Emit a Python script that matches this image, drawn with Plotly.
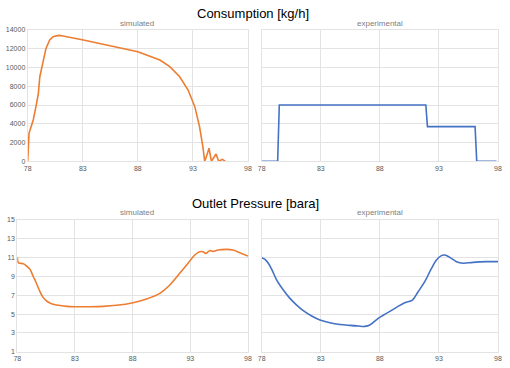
import plotly.graph_objects as go

# ---- data ----
sim_cons_x = [78.0, 78.05, 78.12, 78.36, 78.5, 78.75, 78.97, 79.1, 79.4, 79.66, 80.0, 80.3, 80.8, 81.2,
              83.05, 85.5, 88.0, 90.0, 90.9, 91.8, 92.56, 93.17, 93.6, 93.9, 94.07, 94.25, 94.46, 94.68,
              94.9, 95.1, 95.34, 95.5, 95.67, 95.95]
sim_cons_y = [0, 1500, 2980, 3870, 4400, 5830, 7250, 9020, 10800, 12040, 12930, 13290, 13430, 13360,
              12930, 12330, 11690, 10800, 10090, 9020, 7600, 5830, 3700, 1560, 0, 600, 1390, 0,
              350, 780, 0, 100, 210, 0]

exp_cons_x = [78.0, 79.35, 79.49, 91.89, 92.03, 96.06, 96.2, 97.86]
exp_cons_y = [0, 0, 6000, 6000, 3700, 3700, 0, 0]

sim_p_x = [78.0, 78.09, 78.23, 78.52, 78.81, 79.1, 79.39, 79.6, 79.9, 80.19, 80.54, 80.97, 81.55, 82.27,
           83.14, 84.29, 85.45, 86.6, 88.04, 89.2, 90.35, 91.22, 92.08, 92.8, 93.38, 93.82, 94.1, 94.33,
           94.68, 94.97, 95.4, 96.12, 96.7, 97.28, 98.0]
sim_p_y = [11.03, 10.46, 10.4, 10.36, 10.1, 9.75, 8.97, 8.44, 7.56, 6.85, 6.39, 6.1, 5.93, 5.82,
           5.78, 5.78, 5.82, 5.93, 6.21, 6.6, 7.2, 8.09, 9.33, 10.4, 11.28, 11.63, 11.63, 11.45,
           11.74, 11.67, 11.81, 11.88, 11.81, 11.53, 11.17]

exp_p_x = [78.0, 78.28, 78.56, 78.85, 79.27, 79.83, 80.39, 80.96, 81.52, 82.23, 82.93, 83.77, 84.62,
           85.46, 86.17, 86.73, 87.15, 87.86, 88.56, 89.41, 90.11, 90.76, 91.24, 91.8, 92.37, 92.79,
           93.21, 93.49, 93.92, 94.48, 95.04, 95.89, 97.01, 98.0]
exp_p_y = [11.0, 10.82, 10.4, 9.75, 8.62, 7.56, 6.67, 5.96, 5.36, 4.79, 4.37, 4.08, 3.9,
           3.8, 3.73, 3.69, 3.83, 4.54, 5.07, 5.71, 6.21, 6.49, 7.38, 8.44, 9.86, 10.75,
           11.21, 11.28, 11.03, 10.57, 10.4, 10.5, 10.57, 10.57]

x_ticks = [78, 83, 88, 93, 98]

W, H = 510, 368
ORANGE = "#ED7D31"
BLUE = "#4472C4"
GRID = "#E3E3E3"
TICKC = "#595959"

def px_x(a, b):
    return [a / W, b / W]

def px_y(top, bottom):
    return [1 - bottom / H, 1 - top / H]

fig = go.Figure()
fig.add_trace(go.Scatter(x=sim_cons_x, y=sim_cons_y, mode="lines", line=dict(color=ORANGE, width=1.6),
                         xaxis="x", yaxis="y", showlegend=False))
fig.add_trace(go.Scatter(x=exp_cons_x, y=exp_cons_y, mode="lines", line=dict(color=BLUE, width=1.6),
                         xaxis="x2", yaxis="y2", showlegend=False))
fig.add_trace(go.Scatter(x=sim_p_x, y=sim_p_y, mode="lines", line=dict(color=ORANGE, width=1.6, shape="spline"),
                         xaxis="x3", yaxis="y3", showlegend=False))
fig.add_trace(go.Scatter(x=exp_p_x, y=exp_p_y, mode="lines", line=dict(color=BLUE, width=1.6, shape="spline"),
                         xaxis="x4", yaxis="y4", showlegend=False))

tickfont = dict(family="Liberation Sans, Arial, sans-serif", size=7, color=TICKC)

def xax(domain, anchor):
    return dict(domain=domain, anchor=anchor, range=[78, 98], tickvals=x_ticks,
                showgrid=True, gridcolor=GRID, gridwidth=1, zeroline=False, automargin=False,
                showline=True, linecolor=GRID, mirror=True, ticks="", tickfont=tickfont)

def yax(domain, anchor, rng, dtick, tick0, labels):
    return dict(domain=domain, anchor=anchor, range=rng, dtick=dtick, tick0=tick0,
                tickformat="d", automargin=False,
                showgrid=True, gridcolor=GRID, gridwidth=1, zeroline=False,
                showline=True, linecolor=GRID, mirror=True, ticks="",
                showticklabels=labels, tickfont=tickfont)

top = px_y(30, 161.3)
bot = px_y(220, 351.7)

fig.update_layout(
    width=W, height=H, margin=dict(l=0, r=0, t=0, b=0, autoexpand=False),
    paper_bgcolor="white", plot_bgcolor="white",
    xaxis=xax(px_x(27.7, 248), "y"),
    yaxis=yax(top, "x", [0, 14000], 2000, 0, True),
    xaxis2=xax(px_x(261.7, 498), "y2"),
    yaxis2=yax(top, "x2", [0, 14000], 2000, 0, False),
    xaxis3=xax(px_x(17.3, 248), "y3"),
    yaxis3=yax(bot, "x3", [1, 15], 2, 1, True),
    xaxis4=xax(px_x(261.7, 498), "y4"),
    yaxis4=yax(bot, "x4", [1, 15], 2, 1, False),
)

title_font = dict(family="Liberation Sans, Arial, sans-serif", size=13, color="black")
sub_font = dict(family="Liberation Sans, Arial, sans-serif", size=8, color="#808080")
ann = [
    dict(text="Consumption [kg/h]", x=253.3 / W, y=1 - 13.3 / H, font=title_font),
    dict(text="Outlet Pressure [bara]", x=255 / W, y=1 - 203.3 / H, font=title_font),
    dict(text="simulated", x=137 / W, y=1 - 23 / H, font=sub_font),
    dict(text="experimental", x=380 / W, y=1 - 23 / H, font=sub_font),
    dict(text="simulated", x=137 / W, y=1 - 212 / H, font=sub_font),
    dict(text="experimental", x=380 / W, y=1 - 212 / H, font=sub_font),
]
for a in ann:
    fig.add_annotation(xref="paper", yref="paper", showarrow=False, xanchor="center", yanchor="middle", **a)

fig.write_html("out.html", config={"displayModeBar": False},
               post_script="document.body.style.margin='0';document.body.style.padding='0';"
                           "document.body.style.overflow='hidden';")
